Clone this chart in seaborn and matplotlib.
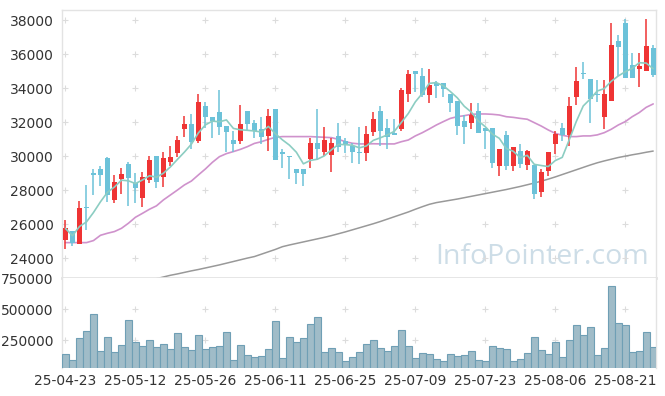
import matplotlib
matplotlib.use("Agg")
import matplotlib.pyplot as plt
import numpy as np
import pandas as pd
import seaborn as sns

# daily candles (KRW), 85 trading days
open_ = [25100, 25600, 24850, 27000, 29000, 29250, 29900, 27450, 28650, 29550,
         28450, 27550, 28600, 30000, 28750, 29650, 30200, 31600, 31900, 30900,
         32950, 32300, 32600, 31750, 30950, 30900, 32650, 31950, 31600, 31200,
         32750, 30250, 30000, 29250, 29250, 29850, 30750, 30250, 30050, 31200,
         30900, 30600, 30250, 30200, 31400, 32650, 31650, 31350, 31600, 33650,
         35000, 34700, 33600, 34300, 34300, 33650, 33250, 32050, 31950, 32650,
         31650, 31650, 29450, 31250, 29400, 30300, 29500, 29500, 27900, 29150,
         30700, 31650, 31250, 33500, 34900, 34550, 33650, 32300, 33250, 36750,
         37850, 35350, 35150, 35000, 36350]
high = [26250, 25600, 27350, 28300, 29250, 29400, 29950, 28900, 29300, 29650,
        29000, 29050, 30000, 30000, 30250, 30600, 31200, 32350, 32500, 33650,
        33200, 32300, 33900, 31750, 31450, 33000, 32650, 32150, 32300, 32750,
        32750, 30450, 30000, 29250, 29250, 31050, 32750, 31700, 31050, 31950,
        31050, 30750, 31700, 31750, 32600, 32950, 32200, 32200, 34000, 35050,
        35000, 35200, 35100, 34400, 34300, 33650, 33250, 32400, 33100, 33150,
        31650, 31650, 30450, 31500, 30550, 30700, 30350, 29500, 29250, 30250,
        31500, 31950, 33450, 35250, 35550, 34550, 34500, 34450, 37800, 37100,
        38050, 36050, 36050, 38050, 36550]
low = [24550, 24700, 24850, 25650, 27700, 28250, 27300, 27250, 27800, 27050,
       27250, 27000, 28450, 28100, 28200, 29400, 29950, 31100, 30450, 30800,
       31650, 31050, 31250, 30250, 30250, 30700, 31450, 31050, 30700, 30300,
       29750, 29300, 28650, 28350, 28250, 29300, 29800, 30000, 29050, 30250,
       30200, 29600, 29550, 29700, 31200, 30600, 30450, 31250, 31500, 33200,
       33800, 33500, 33100, 33400, 33500, 32600, 31250, 30700, 31600, 31350,
       30450, 29300, 28850, 29200, 29100, 29300, 29200, 27500, 27600, 28850,
       30150, 30900, 30600, 33000, 34550, 31950, 33200, 31600, 33250, 34700,
       34600, 34600, 34050, 35000, 34650]
close = [25750, 24900, 26950, 26950, 28900, 28900, 27700, 28500, 28950, 28700,
         28100, 28750, 29750, 28500, 29900, 29950, 30950, 31900, 30850, 33200,
         32300, 32050, 31700, 31400, 30700, 31900, 31900, 31500, 31100, 32350,
         29750, 30100, 29950, 29000, 28950, 30750, 30450, 30950, 30750, 30550,
         30700, 30250, 30200, 31300, 32200, 31450, 31100, 31250, 33900, 34850,
         34850, 33600, 34200, 34100, 33950, 33150, 31750, 31700, 32400, 31350,
         31450, 29600, 30450, 29400, 30550, 29550, 30300, 27800, 29050, 30250,
         31300, 31250, 32950, 34400, 34850, 33350, 33600, 33650, 36550, 36400,
         34600, 34600, 35300, 36450, 34750]
volume = [136000, 88000, 266000, 323000, 461000, 161000, 274000, 153000, 209000, 412000,
          234000, 201000, 250000, 193000, 217000, 177000, 307000, 193000, 169000, 290000,
          177000, 193000, 201000, 315000, 88000, 209000, 128000, 112000, 120000, 177000,
          404000, 104000, 274000, 234000, 266000, 380000, 436000, 153000, 185000, 153000,
          80000, 112000, 153000, 217000, 250000, 185000, 161000, 201000, 331000, 201000,
          104000, 145000, 136000, 96000, 80000, 136000, 120000, 128000, 161000, 88000,
          80000, 201000, 185000, 177000, 80000, 96000, 145000, 274000, 169000, 136000,
          234000, 112000, 250000, 372000, 290000, 355000, 128000, 185000, 688000, 388000,
          372000, 153000, 161000, 315000, 193000]
# moving averages (they use history before the window)
ma20 = [24920, 24920, 24920, 24920, 25040, 25350, 25470, 25570, 25760, 26060,
        26410, 26640, 26880, 27080, 27430, 27720, 28010, 28310, 28540, 28900,
        29250, 29640, 29970, 30150, 30270, 30400, 30560, 30750, 30850, 30990,
        31110, 31150, 31150, 31150, 31150, 31150, 31130, 31110, 31090, 30990,
        30850, 30760, 30720, 30720, 30730, 30720, 30720, 30720, 30850, 30950,
        31190, 31380, 31600, 31830, 32030, 32220, 32320, 32380, 32460, 32480,
        32480, 32460, 32420, 32320, 32280, 32220, 32170, 31970, 31770, 31540,
        31340, 31230, 31150, 31150, 31190, 31190, 31250, 31380, 31580, 31830,
        32030, 32320, 32560, 32870, 33070]
ma120 = [None] * 12 + [
        22700, 22800, 22900, 23000, 23080, 23170, 23260, 23340,
        23430, 23520, 23610, 23710, 23810, 23910, 24010, 24100, 24240, 24380,
        24520, 24680, 24780, 24870, 24960, 25050, 25140, 25230, 25330, 25440,
        25550, 25670, 25790, 25910, 26030, 26160, 26300, 26440, 26580, 26720,
        26880, 27030, 27170, 27270, 27340, 27410, 27480, 27560, 27640, 27720,
        27800, 27880, 27960, 28040, 28130, 28220, 28320, 28420, 28530, 28650,
        28780, 28920, 29060, 29200, 29340, 29480, 29610, 29720, 29820, 29920,
        30000, 30080, 30150, 30230, 30300]
tick_labels = ['25-04-23', '25-05-12', '25-05-26', '25-06-11', '25-06-25',
               '25-07-09', '25-07-23', '25-08-06', '25-08-21']

df = pd.DataFrame({'Open': open_, 'High': high, 'Low': low, 'Close': close,
                   'Volume': volume, 'MA20': ma20,
                   'MA120': pd.array(ma120, dtype='Float64')})
df['Day'] = np.arange(len(df))
df['MA5'] = df['Close'].rolling(5, min_periods=1).mean()
df['MA120'] = df['MA120'].astype(float)

UP, DOWN = '#ef3434', '#6cc2d9'
GRID = '#dcdcdc'
EDGE = '#e3e3e3'

sns.set_style("white")
plt.rcParams['font.family'] = ['DejaVu Sans']

fig = plt.figure(figsize=(6.65, 3.96), dpi=100)
ax = fig.add_axes([62/665, 1-278/396, 594/665, 268/396])
ax2 = fig.add_axes([62/665, 1-368/396, 594/665, 90/396], sharex=ax)

xticks = list(range(0, len(df), 10))

# price panel
up = df['Close'] >= df['Open']
colors = np.where(up, UP, DOWN)
body_lo = df[['Open', 'Close']].min(axis=1)
body_h = (df['Close'] - df['Open']).abs().clip(lower=60)
ax.vlines(df['Day'], df['Low'], df['High'], colors=colors, linewidth=1.1, zorder=3)
ax.bar(df['Day'], body_h, bottom=body_lo, width=0.72, color=colors,
       linewidth=0, zorder=4)
sns.lineplot(data=df, x='Day', y='MA120', ax=ax, color='#999999', linewidth=1.1, zorder=2)
sns.lineplot(data=df, x='Day', y='MA20', ax=ax, color='#cf92cc', linewidth=1.2, zorder=2)
sns.lineplot(data=df, x='Day', y='MA5', ax=ax, color='#8ccdc2', linewidth=1.2, zorder=5)

pticks = list(range(24000, 38001, 2000))
gx, gy = np.meshgrid(xticks, pticks)
ax.scatter(gx.ravel(), gy.ravel(), marker='+', s=14, color=GRID, linewidths=0.8, zorder=1)
ax.set_ylim(22840, 38590)
ax.set_yticks(pticks)
ax.set_xlim(-0.5, len(df) - 0.6)
ax.text(0.988, 0.08, 'InfoPointer.com', transform=ax.transAxes, ha='right', va='center',
        fontsize=20.5, color='#cddde7', family='Open Sans', zorder=0)

# volume panel
sns.barplot(x=df['Day'], y=df['Volume'], ax=ax2, native_scale=True, width=1.0,
            color='#99bfcf', edgecolor='#6f9fb5', linewidth=0.8, zorder=3)
vticks = [250000, 500000, 750000]
gx, gy = np.meshgrid(xticks, [250000, 500000])
ax2.scatter(gx.ravel(), gy.ravel(), marker='+', s=14, color=GRID, linewidths=0.8, zorder=1)
ax2.set_ylim(25000, 752000)
ax2.set_yticks(vticks)
ax2.set_xticks(xticks)
ax2.set_xticklabels(tick_labels)
ax2.set_xlim(-0.5, len(df) - 0.6)

for a in (ax, ax2):
    a.set_xlabel('')
    a.set_ylabel('')
    a.tick_params(length=0, labelsize=10, colors='#333333', pad=6)
    for s in a.spines.values():
        s.set_color(EDGE)
        s.set_linewidth(1.0)
ax.tick_params(axis='x', labelbottom=False)
ax.spines['bottom'].set_linewidth(2.0)
ax2.spines['top'].set_visible(False)
ax2.spines['bottom'].set_visible(False)
ax2.tick_params(axis='x', pad=4)

fig.savefig('out.png', dpi=100)
